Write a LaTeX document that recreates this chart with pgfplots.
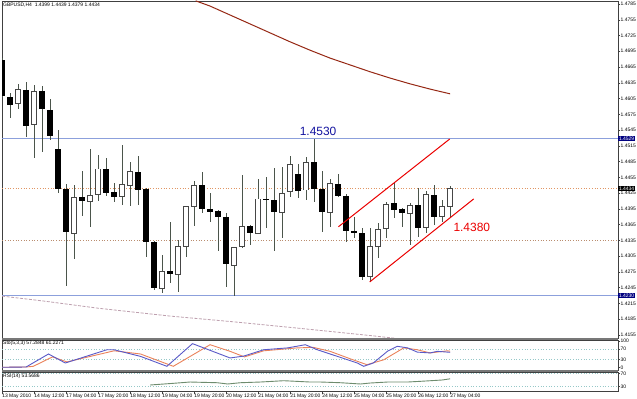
\documentclass[border=0pt]{standalone}
\usepackage{pgfplots}
\pgfplotsset{compat=1.18}
\usepackage{pgfplotstable}
\usepackage{fontspec}
\setmainfont{Liberation Sans}

\definecolor{wick}{RGB}{75,85,75}
\definecolor{bodyline}{RGB}{70,70,70}
\definecolor{mared}{RGB}{150,40,20}
\definecolor{lvlblue}{RGB}{140,160,220}
\definecolor{lvlorange}{RGB}{225,150,100}
\definecolor{navybox}{RGB}{0,0,128}
\definecolor{txtblue}{RGB}{20,20,160}
\definecolor{chred}{RGB}{235,0,0}
\definecolor{stblue}{RGB}{90,90,200}
\definecolor{storange}{RGB}{235,130,90}
\definecolor{rsicol}{RGB}{110,140,110}
\definecolor{sepgray}{RGB}{120,120,120}
\definecolor{lvlcyan}{RGB}{150,200,200}
\definecolor{slowma}{RGB}{190,160,175}

\newcommand{\tf}{\fontsize{5}{6}\selectfont}

% bearish candles: bar index, open, high, low, close
\pgfplotstableread{
i O H L C
0 1.4677 1.4682 1.4608 1.4610
1 1.4608 1.4616 1.4568 1.4593
3 1.4621 1.4637 1.4532 1.4553
5 1.4618 1.4629 1.4503 1.4585
6 1.4583 1.4604 1.4526 1.4534
7 1.4509 1.4545 1.4425 1.4433
8 1.4433 1.4442 1.4248 1.4351
10 1.4418 1.4467 1.4381 1.4410
13 1.4471 1.4492 1.4420 1.4425
14 1.4427 1.4444 1.4408 1.4418
17 1.4465 1.4496 1.4402 1.4431
18 1.4433 1.4435 1.4303 1.4332
19 1.4332 1.4333 1.4241 1.4246
21 1.4277 1.4370 1.4254 1.4271
25 1.4440 1.4465 1.4387 1.4395
26 1.4395 1.4425 1.4370 1.4389
27 1.4391 1.4393 1.4315 1.4380
28 1.4380 1.4387 1.4246 1.4290
31 1.4362 1.4364 1.4326 1.4349
33 1.4414 1.4456 1.4359 1.4412
34 1.4412 1.4473 1.4315 1.4389
37 1.4460 1.4480 1.4416 1.4429
39 1.4484 1.4528 1.4408 1.4433
40 1.4433 1.4467 1.4351 1.4389
42 1.4442 1.4461 1.4418 1.4421
43 1.4420 1.4423 1.4332 1.4353
44 1.4353 1.4380 1.4340 1.4349
45 1.4349 1.4359 1.4260 1.4267
49 1.4406 1.4446 1.4378 1.4393
50 1.4395 1.4397 1.4361 1.4387
52 1.4402 1.4435 1.4342 1.4359
54 1.4421 1.4440 1.4364 1.4381
}\bear

% bullish candles
\pgfplotstableread{
i O H L C
2 1.4595 1.4633 1.4585 1.4623
4 1.4555 1.4631 1.4492 1.4619
9 1.4349 1.4440 1.4300 1.4416
11 1.4410 1.4509 1.4361 1.4421
12 1.4423 1.4498 1.4410 1.4471
15 1.4418 1.4517 1.4402 1.4442
16 1.4440 1.4484 1.4401 1.4467
20 1.4244 1.4307 1.4235 1.4275
22 1.4271 1.4336 1.4237 1.4323
23 1.4323 1.4401 1.4303 1.4399
24 1.4399 1.4448 1.4362 1.4440
29 1.4288 1.4323 1.4229 1.4321
30 1.4323 1.4460 1.4321 1.4362
32 1.4349 1.4452 1.4347 1.4414
35 1.4389 1.4475 1.4340 1.4425
36 1.4429 1.4496 1.4418 1.4479
38 1.4431 1.4494 1.4412 1.4484
41 1.4389 1.4452 1.4361 1.4444
46 1.4267 1.4359 1.4256 1.4323
47 1.4323 1.4368 1.4302 1.4355
48 1.4357 1.4408 1.4340 1.4404
51 1.4387 1.4406 1.4326 1.4401
53 1.4359 1.4429 1.4349 1.4423
55 1.4381 1.4412 1.4370 1.4399
56 1.4399 1.4439 1.4379 1.4434
}\bull

\pgfplotsset{
  mt4/.style={
    scale only axis, clip mode=individual,
    width=616bp, xmin=-0.0125, xmax=76.9875,
    axis line style={black!75, line width=0.8bp},
    tick style={black!75, line width=0.5bp},
    tick align=outside, major tick length=2bp,
    ytick pos=right, yticklabel pos=right,
    yticklabel style={font=\tf, anchor=west, inner sep=0pt, xshift=0.5bp},
    xtick=\empty,
  },
  wickst/.style={draw=none, mark=none, forget plot,
    error bars/.cd, y dir=both, y explicit, error mark=none,
    error bar style={draw=wick, line width=1bp}},
  bodyst/.style 2 args={draw=none, mark=none, forget plot,
    error bars/.cd, y dir=both, y explicit, error mark=none,
    error bar style={draw=#1, line width=#2}},
}
\tikzset{pbox/.style={anchor=west, text=white, font=\tf, inner xsep=0.8bp, inner ysep=0.6bp}}

\begin{document}
\begin{tikzpicture}
\fill[white] (0bp,0bp) rectangle (637bp,399bp);

% ---------------- main price panel ----------------
\begin{axis}[mt4, name=main, at={(2bp,61bp)}, anchor=south west, height=337bp,
  ymin=1.414929, ymax=1.479071,
  ytick={1.4155,1.4185,1.4215,1.4245,1.4275,1.4305,1.4335,1.4365,1.4395,1.4425,1.4455,1.4485,1.4515,1.4545,1.4575,1.4605,1.4635,1.4665,1.4695,1.4725,1.4755,1.4785},
  yticklabels={1.4155,1.4185,1.4215,1.4245,1.4275,1.4305,1.4335,1.4365,1.4395,1.4425,1.4455,1.4485,1.4515,1.4545,1.4575,1.4605,1.4635,1.4665,1.4695,1.4725,1.4755,1.4785},
]
% level lines
\addplot[lvlblue, line width=1bp] coordinates {(-1,1.4529) (77,1.4529)};
\addplot[lvlblue, line width=1bp] coordinates {(-1,1.4230) (77,1.4230)};
\addplot[lvlorange, dotted, line width=0.7bp] coordinates {(-1,1.4434) (77,1.4434)};
\addplot[lvlorange!60!gray, dotted, line width=0.7bp] coordinates {(-1,1.4336) (77,1.4336)};
% slow moving average
\addplot[slowma, line width=0.8bp, dash pattern=on 3bp off 1.5bp] coordinates {
(0,1.4229) (5,1.4220) (12,1.4206) (21,1.4191) (29,1.4180) (37,1.4168) (46,1.4154) (49,1.4149)};
% moving average
\addplot[mared, line width=1bp] coordinates {
(24.2,1.4791) (26,1.4781) (28.5,1.4764) (31,1.4747) (33.5,1.4730) (36,1.4713) (38.5,1.4697) (41,1.4682) (43.5,1.4669) (46,1.4656) (48.5,1.4644) (51,1.4633) (53.5,1.4623) (56,1.4614)};
% wicks
\addplot[wickst] table[x=i, y expr={(\thisrow{H}+\thisrow{L})/2}, y error expr={(\thisrow{H}-\thisrow{L})/2}] {\bear};
\addplot[wickst] table[x=i, y expr={(\thisrow{H}+\thisrow{L})/2}, y error expr={(\thisrow{H}-\thisrow{L})/2}] {\bull};
% bodies
\addplot[bodyst={black}{5.4bp}] table[x=i, y expr={(\thisrow{O}+\thisrow{C})/2}, y error expr={abs(\thisrow{C}-\thisrow{O})/2+0.00006}] {\bear};
\addplot[bodyst={bodyline}{5.4bp}] table[x=i, y expr={(\thisrow{O}+\thisrow{C})/2}, y error expr={abs(\thisrow{C}-\thisrow{O})/2+0.0000857}] {\bull};
\addplot[bodyst={white}{3.6bp}] table[x=i, y expr={(\thisrow{O}+\thisrow{C})/2}, y error expr={abs(\thisrow{C}-\thisrow{O})/2-0.0000857}] {\bull};
% channel
\addplot[chred, line width=1bp] coordinates {(42.04,1.4361) (55.95,1.4528)};
\addplot[chred, line width=1bp] coordinates {(45.95,1.4256) (58.95,1.4414)};
% texts
\node[txtblue, font=\fontsize{12}{14}\selectfont, inner sep=0pt] at (axis cs:39.5,1.4542) {1.4530};
\node[chred, font=\fontsize{12}{14}\selectfont, inner sep=0pt, anchor=west] at (axis cs:56.4,1.4360) {1.4380};
\node[font=\tf, inner sep=0pt, anchor=north west] at (axis description cs:0,1) [xshift=1bp, yshift=-1.5bp] {GBPUSD,H4\ \ 1.4399 1.4439 1.4379 1.4434};
% price boxes
\node[pbox, fill=navybox] at (axis cs:76.9875,1.4529) {1.4529};
\node[pbox, fill=black] at (axis cs:76.9875,1.4434) {1.4434};
\node[pbox, fill=navybox] at (axis cs:76.9875,1.4230) {1.4230};
\end{axis}

% ---------------- stochastic panel ----------------
\begin{axis}[mt4, name=sto, at={(2bp,29bp)}, anchor=south west, height=30bp,
  ymin=-9.43, ymax=103.77,
  ytick={0,30,70,100}, yticklabels={0,30,70,100},
]
\addplot[lvlcyan, dotted, line width=0.7bp] coordinates {(-1,70) (77,70)};
\addplot[lvlcyan, dotted, line width=0.7bp] coordinates {(-1,30) (77,30)};
\addplot[storange, line width=0.9bp] coordinates {
(0,0.8) (3,1.9) (3.9,4.5) (6.3,40) (8.1,21) (14,63) (17.3,51) (21.4,4.5) (26,86) (28.5,61) (30.3,40) (32.7,63) (36.9,74) (38.9,76) (41,61) (43.5,33) (45.6,10.6) (47.7,29) (50.2,74) (51.9,67) (53.5,55) (55.7,63) (56,61.23)};
\addplot[stblue, line width=0.9bp] coordinates {
(0,0.8) (3,1.9) (5.8,51) (7.9,17) (13.1,67) (14,67) (17.3,42) (20.6,4.5) (23.8,90) (28.5,36) (30.2,43) (32.7,67) (35.7,74) (37.9,86) (39.4,67) (41.9,42) (44.4,17) (45.2,4.5) (46.4,17) (48.2,62) (49.4,80) (50.7,74) (51.9,58) (53.5,55) (54.4,61) (56,57.28)};
\node[font=\tf, inner sep=0pt, anchor=north west] at (axis description cs:0,1) [xshift=1bp, yshift=-1bp] {Sto(5,3,3) 57.2848 61.2271};
\end{axis}

% ---------------- RSI panel ----------------
\begin{axis}[mt4, name=rsi, at={(2bp,7.5bp)}, anchor=south west, height=19.5bp,
  ymin=15.7, ymax=73.9,
  ytick={30,70}, yticklabels={30,70},
  xtick={0,4,8,12,16,20,24,28,32,36,40,44,48,52,56},
  xticklabels={13 May 2010,14 May 12:00,17 May 04:00,17 May 20:00,18 May 12:00,19 May 04:00,19 May 20:00,20 May 12:00,21 May 04:00,21 May 20:00,24 May 12:00,25 May 04:00,25 May 20:00,26 May 12:00,27 May 04:00},
  xtick pos=bottom,
  xticklabel style={font=\tf, anchor=north west, inner sep=0pt, yshift=-0.5bp},
]
\addplot[lvlcyan, dotted, line width=0.7bp] coordinates {(-1,70) (77,70)};
\addplot[lvlcyan, dotted, line width=0.7bp] coordinates {(-1,30) (77,30)};
\addplot[rsicol, line width=0.9bp] coordinates {
(18.5,35.1) (21.4,40.1) (23.5,44.0) (26.9,41.9) (28.2,38.1) (29.8,41.9) (32.3,44.0) (35.2,47.9) (38.5,44.0) (39.8,44.0) (42.3,41.9) (44.8,38.1) (46,41.0) (48.2,44.0) (50.7,44.0) (52.3,46.1) (55,50.0) (56,53.57)};
\node[font=\tf, inner sep=0pt, anchor=north west] at (axis description cs:0,1) [xshift=1bp, yshift=-1.5bp] {RSI(14) 53.5686};
\end{axis}

% separators
\fill[sepgray] (2bp,58.5bp) rectangle (618bp,61bp);
\fill[sepgray] (2bp,26.5bp) rectangle (618bp,29bp);

\pgfresetboundingbox
\useasboundingbox (0bp,0bp) rectangle (637bp,399bp);
\end{tikzpicture}
\end{document}
